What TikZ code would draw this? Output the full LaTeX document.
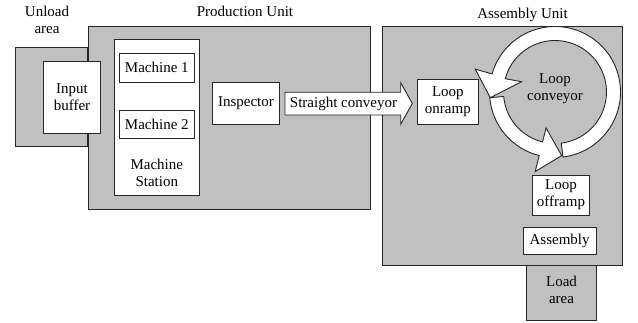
\documentclass[tikz,border=0pt]{standalone}
\usepackage{fontspec}
\setmainfont{Liberation Serif}
\usetikzlibrary{calc}
\definecolor{unitgray}{HTML}{C0C0C0}
\definecolor{edgecol}{gray}{0.15}
\begin{document}
\begin{tikzpicture}[x=1pt,y=-1pt,
  font=\fontsize{15}{17}\selectfont,
  area/.style={draw=edgecol, line width=0.9pt, fill=unitgray, inner sep=0pt},
  box/.style={draw=edgecol, line width=0.9pt, fill=white, inner sep=0pt, align=center},
  txt/.style={inner sep=0pt, align=center},
  belt/.style={draw=edgecol, line width=0.9pt, fill=white, line join=miter}]
\useasboundingbox (0,0) rectangle (638,323);

% areas / units
\node[area, minimum width=71.3pt, minimum height=99pt] (unload) at (51.35,97.2) {};
\node[area, minimum width=282.4pt, minimum height=183pt] (production) at (229.5,117.5) {};
\node[area, minimum width=239.8pt, minimum height=239.5pt] (assemblyunit) at (502.4,145.75) {};
\node[area, minimum width=70pt, minimum height=54.5pt] (load) at (561.5,292.75) {};

% titles
\node[txt] (unloadtitle) at (47,20.3) {Unload\\area};
\node[txt] (prodtitle) at (245,11) {Production Unit};
\node[txt] (asmtitle) at (522.5,14.5) {Assembly Unit};
\node[txt] (loadtitle) at (561.5,290) {Load\\area};

% production unit contents
\node[box, minimum width=57.4pt, minimum height=71.6pt] (input) at (72,97.5) {Input\\buffer};
\node[box, minimum width=85pt, minimum height=155.7pt] (station) at (156.8,117.15) {};
\node[box, minimum width=75.7pt, minimum height=28.7pt] (m1) at (156.85,67.65) {Machine 1};
\node[box, minimum width=75.7pt, minimum height=28.3pt] (m2) at (156.85,124.15) {Machine 2};
\node[txt] (stationlabel) at (156.8,172.5) {Machine\\Station};
\node[box, minimum width=66.6pt, minimum height=42.3pt] (inspector) at (246,103.15) {Inspector};

% straight conveyor
\draw[belt] (285,92.3) -- (400.7,92.3) -- (400.7,82.7) -- (412.3,103.5)
  -- (400.7,124.3) -- (400.7,115) -- (285,115) -- cycle;
\node[txt] (straight) at (343.5,103.6) {Straight conveyor};

% assembly unit contents
\node[box, minimum width=60.3pt, minimum height=45pt] (onramp) at (447.85,101.5) {Loop\\onramp};

\coordinate (lc) at (555,92);
\def\Ro{65.5}
\def\Ri{51.5}
\draw[belt] ($(lc)+(83:\Ri)$) -- ($(lc)+(83:\Ro)$)
  arc[start angle=83, end angle=-164, radius=\Ro]
  -- ($(lc)+(-164:83)$) -- ($(lc)+(-185:65)$) -- ($(lc)+(-163:35)$)
  -- ($(lc)+(-165:\Ri)$)
  arc[start angle=-165, end angle=83, radius=\Ri] -- cycle;
\draw[belt] ($(lc)+(175:\Ri)$) -- ($(lc)+(175:\Ro)$)
  arc[start angle=175, end angle=104, radius=\Ro]
  -- ($(lc)+(104:82)$) -- ($(lc)+(84:64)$) -- ($(lc)+(104:37)$)
  -- ($(lc)+(104:\Ri)$)
  arc[start angle=104, end angle=175, radius=\Ri] -- cycle;
\node[txt] (looplabel) at (555,89) {Loop\\conveyor};

\node[box, minimum width=56.6pt, minimum height=40pt] (offramp) at (561,195) {Loop\\offramp};
\node[box, minimum width=72.7pt, minimum height=27.5pt] (assembly) at (559.65,240.75) {Assembly};
\end{tikzpicture}
\end{document}
